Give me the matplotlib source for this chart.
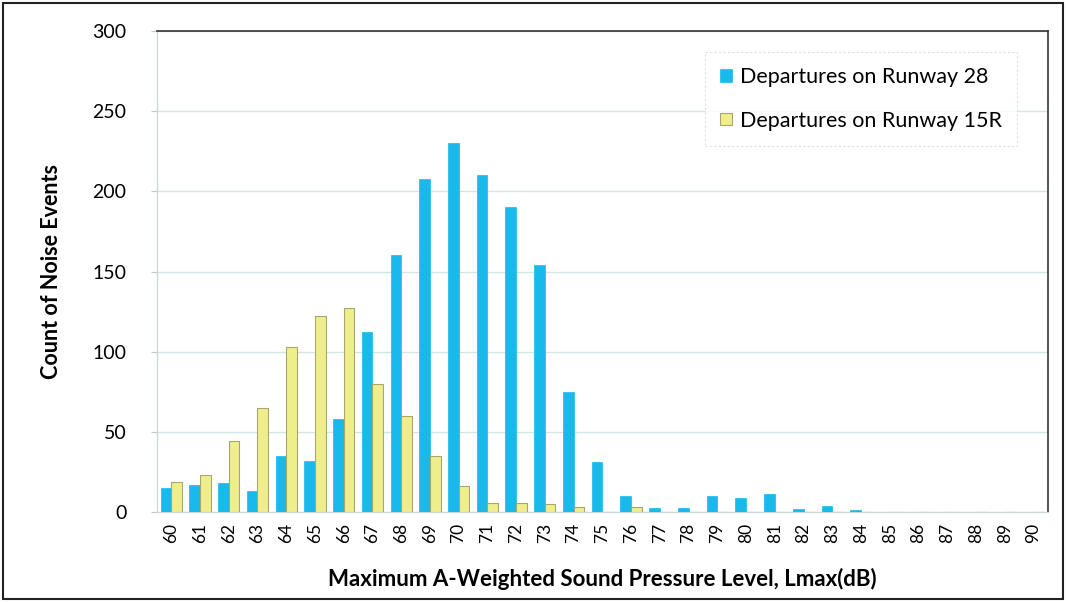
import matplotlib
matplotlib.use("Agg")
import matplotlib.pyplot as plt
import numpy as np
from matplotlib.patches import Rectangle

# ---------------------------------------------------------
# Data
# ---------------------------------------------------------
levels = list(range(60, 91))
runway_28 = [15, 17, 18, 13, 35, 32, 58, 112, 160, 208, 230, 210, 190, 154, 75,
             31, 10, 2.5, 2.5, 10, 9, 11, 2, 3.5, 1, 0, 0, 0, 0, 0, 0]
runway_15r = [19, 23, 44, 65, 103, 122, 127, 80, 60, 35, 16, 5.5, 5.5, 5, 3,
              0, 3, 0, 0, 0, 0, 0, 0, 0, 0, 0, 0, 0, 0, 0, 0]
series_labels = ["Departures on Runway 28", "Departures on Runway 15R"]
y_ticks = [0, 50, 100, 150, 200, 250, 300]

plt.rcParams["font.family"] = ["Lato", "DejaVu Sans"]

fig = plt.figure(figsize=(10.67, 6.02), dpi=100)
ax = fig.add_axes([0.147, 0.1495, 0.835, 0.799])

x = np.arange(len(levels))
w = 0.37
ax.bar(x - w / 2, runway_28, width=w, color="#19b9ec", edgecolor="#19b9ec",
       linewidth=0.5, label=series_labels[0], zorder=3)
ax.bar(x + w / 2, runway_15r, width=w, color="#eeee8c", edgecolor="#a8a670",
       linewidth=0.8, label=series_labels[1], zorder=3)

ax.set_xlim(-0.5, len(levels) - 0.5)
ax.set_ylim(0, 300)
ax.set_yticks(y_ticks)
ax.set_yticklabels([str(v) for v in y_ticks], fontsize=14)
ax.set_xticks(x)
ax.set_xticklabels([str(v) for v in levels], rotation=90, fontsize=12.5)
ax.tick_params(axis="y", length=4, color="#c8c8c8", pad=18)
ax.tick_params(axis="x", length=0, pad=8)

ax.grid(axis="y", color="#cfe6e4", linewidth=0.9, zorder=0)
ax.set_axisbelow(True)

for side in ["top", "right"]:
    ax.spines[side].set_color("#333333")
    ax.spines[side].set_linewidth(1.2)
for side in ["left", "bottom"]:
    ax.spines[side].set_color("#c8d8d8")
    ax.spines[side].set_linewidth(0.9)

ax.set_ylabel("Count of Noise Events", fontsize=15.5, fontweight="bold", labelpad=22)
ax.set_xlabel("Maximum A-Weighted Sound Pressure Level, Lmax(dB)",
              fontsize=16, fontweight="bold", labelpad=18)

leg = ax.legend(loc="upper right", bbox_to_anchor=(0.978, 0.979), fontsize=15.5,
                frameon=True, fancybox=False, handlelength=0.55, handleheight=0.55,
                handletextpad=0.4, labelspacing=1.1, borderpad=0.7)
leg.get_frame().set_edgecolor("#d8d8d8")
leg.get_frame().set_linestyle((0, (2, 2)))
leg.get_frame().set_linewidth(0.8)

# dark frame around the whole chart, as in the scanned original
fig.patches.append(Rectangle((0.003, 0.005), 0.993, 0.99, transform=fig.transFigure,
                             fill=False, edgecolor="#222222", linewidth=1.5))

fig.savefig("out.png", dpi=100)
